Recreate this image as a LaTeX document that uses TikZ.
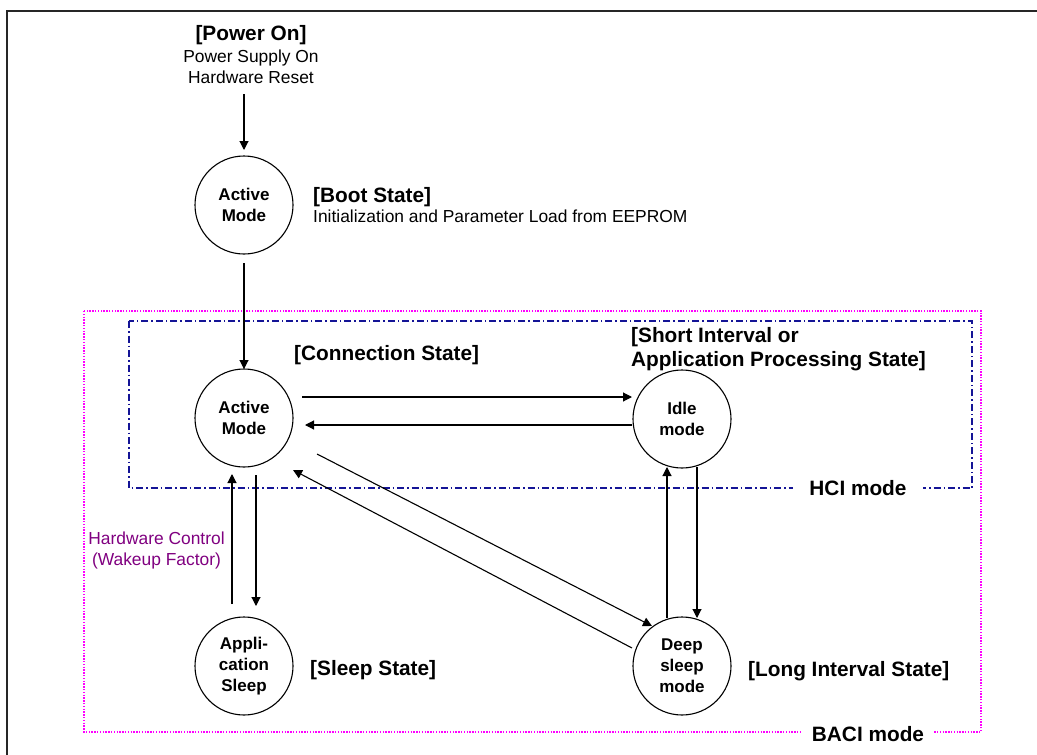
\documentclass[tikz,border=0pt]{standalone}
\usepackage{fontspec}
\setmainfont{Liberation Sans}
\usetikzlibrary{arrows.meta,calc}
\definecolor{hciblue}{RGB}{20,20,150}
\definecolor{bacimag}{RGB}{255,0,255}
\definecolor{hwpurple}{RGB}{128,0,128}
\tikzset{
  statecirc/.style={circle,draw,line width=1.1pt,minimum size=98pt,inner sep=0pt,align=center,
    font=\fontsize{17}{21}\selectfont\bfseries},
  arr/.style={line width=1.1pt,-{Triangle[length=9pt,width=9pt]}},
  biglbl/.style={anchor=base west,inner sep=0pt,font=\fontsize{20.8}{24}\selectfont\bfseries},
  smalllbl/.style={anchor=base,inner sep=0pt,font=\fontsize{17.4}{21}\selectfont},
  boxlbl/.style={anchor=base,fill=white,inner xsep=10pt,inner ysep=0pt,font=\fontsize{20.8}{24}\selectfont\bfseries},
}
\begin{document}
\begin{tikzpicture}[x=1pt,y=-1pt]
\useasboundingbox (0,0) rectangle (1037,755);
% outer frame (only top and left visible)
\draw[line width=2pt,black!85] (7,760) -- (7,11) -- (1040,11);

% mode boxes
\draw[bacimag,line width=1.3pt,dash pattern=on 1.4pt off 1.4pt] (84,311) rectangle (981,732);
\draw[hciblue,line width=1.2pt,dash pattern=on 7pt off 3pt on 1.5pt off 3pt] (129,321) rectangle (972,488);
\node[boxlbl,inner xsep=16pt] (hcil) at (858,495) {HCI mode};
\node[boxlbl] (bacil) at (868,741) {BACI mode};

% states
\node[statecirc] (boot) at (244,205) {Active\\Mode};
\node[statecirc] (act) at (244,418) {Active\\Mode};
\node[statecirc] (idle) at (682,419) {Idle\\mode};
\node[statecirc] (sleep) at (244,666) {Appli-\\cation\\Sleep};
\node[statecirc] (deep) at (682,666) {Deep\\sleep\\mode};

% power on text
\node[anchor=base,inner sep=0pt,font=\fontsize{20.8}{24}\selectfont\bfseries] (pwr) at (251,40.5) {[Power On]};
\node[smalllbl] (pwr1) at (251,62.5) {Power Supply On};
\node[smalllbl] (pwr2) at (251,83) {Hardware Reset};

% state labels
\node[biglbl] (bootl) at (313,202) {[Boot State]};
\node[anchor=base west,inner sep=0pt,font=\fontsize{17.4}{21}\selectfont] (bootd) at (313,222.7) {Initialization and Parameter Load from EEPROM};
\node[biglbl] (connl) at (294,360) {[Connection State]};
\node[biglbl] (shortl1) at (631,342) {[Short Interval or};
\node[biglbl] (shortl2) at (631,366) {Application Processing State]};
\node[biglbl] (sleepl) at (310,675) {[Sleep State]};
\node[biglbl] (longl) at (748,676) {[Long Interval State]};
\node[smalllbl,text=hwpurple] (hw1) at (156.5,544) {Hardware Control};
\node[smalllbl,text=hwpurple] (hw2) at (156.5,565) {(Wakeup Factor)};

% connectors
\draw[arr] ($(boot)+(0,-111)$) -- ($(boot)+(0,-55)$);
\draw[arr] ($(boot)+(0,58)$) -- ($(act)+(0,-49)$);
\draw[arr] ($(act)+(58,-21)$) -- ($(idle)+(-50,-22)$);
\draw[arr] ($(idle)+(-50,6)$) -- ($(act)+(61,7)$);
\draw[arr] ($(act)+(12,57)$) -- ($(sleep)+(12,-60)$);
\draw[arr] ($(sleep)+(-12,-62)$) -- ($(act)+(-12,56)$);
\draw[arr] ($(act)+(73,36)$) -- ($(deep)+(-30,-40)$);
\draw[arr] ($(deep)+(-50,-18)$) -- ($(act)+(49,52)$);
\draw[arr] ($(idle)+(15,48)$) -- ($(deep)+(15,-48)$);
\draw[arr] ($(deep)+(-15,-48)$) -- ($(idle)+(-15,48)$);
\end{tikzpicture}
\end{document}
